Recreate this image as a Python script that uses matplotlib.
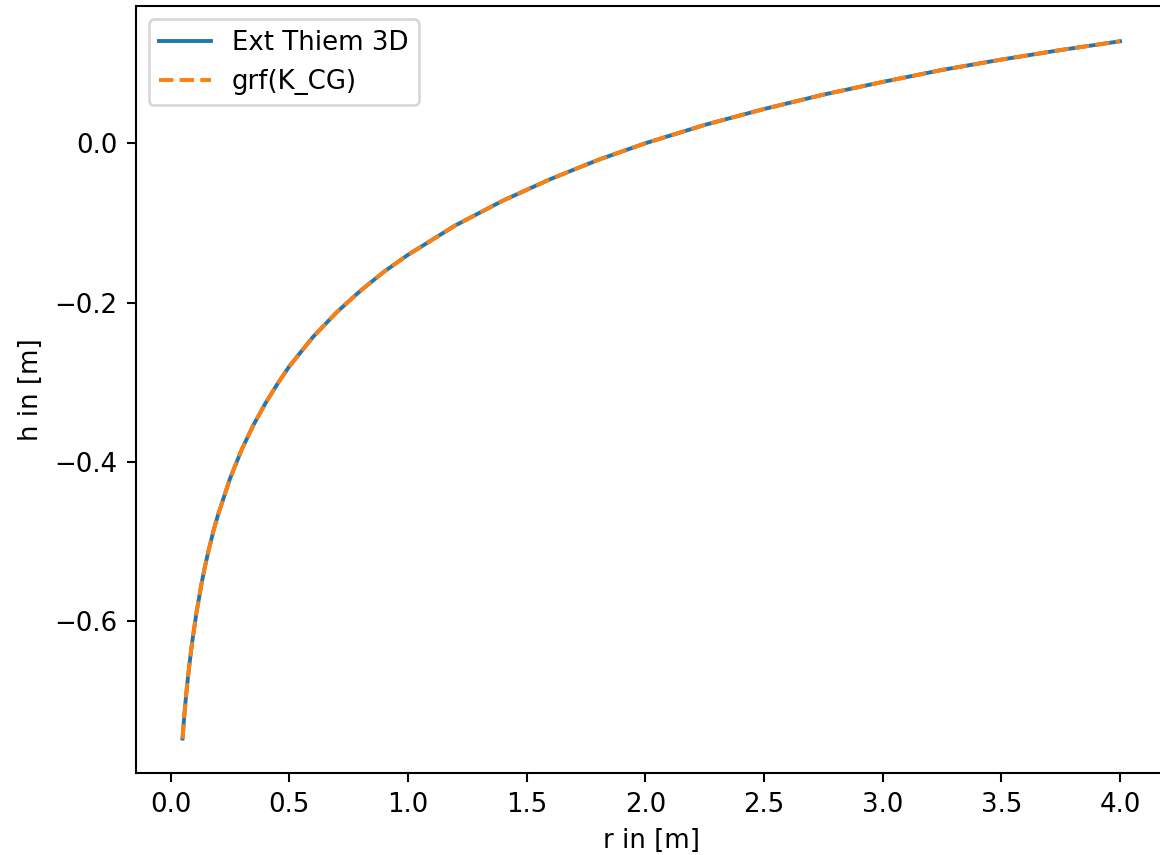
import matplotlib
matplotlib.use("Agg")
import matplotlib.pyplot as plt

# radius values and head values
r = [0.05, 0.055, 0.06, 0.065, 0.07, 0.075, 0.08, 0.09, 0.1, 0.11, 0.12, 0.13, 0.14,
     0.15, 0.16, 0.18, 0.2, 0.25, 0.3, 0.35, 0.4, 0.45, 0.5, 0.6, 0.7, 0.8, 0.9,
     1.0, 1.2, 1.4, 1.6, 1.8, 2.0, 2.25, 2.5, 2.75, 3.0, 3.25, 3.5, 3.75, 4.0]
h_thiem = [-0.747, -0.728, -0.710, -0.694, -0.679, -0.665, -0.652, -0.628, -0.607,
           -0.587, -0.570, -0.553, -0.538, -0.524, -0.511, -0.487, -0.466, -0.421,
           -0.384, -0.353, -0.326, -0.302, -0.280, -0.243, -0.212, -0.185, -0.161,
           -0.140, -0.103, -0.072, -0.045, -0.021, 0.0, 0.023, 0.043, 0.061, 0.077,
           0.092, 0.105, 0.117, 0.128]
h_grf = list(h_thiem)

dpi = 187
fig = plt.figure(figsize=(1160 / dpi, 855 / dpi), dpi=dpi)
# axes runs a little past the right edge, like the cropped original
ax = fig.add_axes([0.1169, 0.0954, 0.889, 0.8971])

ax.plot(r, h_thiem, label="Ext Thiem 3D")
ax.plot(r, h_grf, "--", label="grf(K_CG)")

ax.set_xlabel("r in [m]")
ax.set_ylabel("h in [m]")
ax.set_xticks([0.0, 0.5, 1.0, 1.5, 2.0, 2.5, 3.0, 3.5, 4.0])
ax.set_yticks([0.0, -0.2, -0.4, -0.6])
ax.legend(loc="upper left")

fig.savefig("out.png", dpi=dpi)
